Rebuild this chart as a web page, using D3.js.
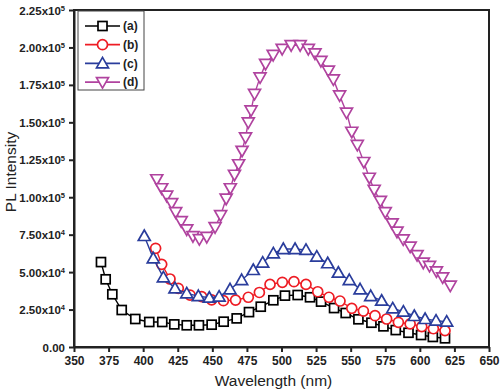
<!DOCTYPE html>
<html>
<head>
<script src="https://d3js.org/d3.v7.min.js"></script>
<style>
  body { margin: 0; background: #fff; }
  text { font-family: "Liberation Sans", Arial, sans-serif; }
</style>
</head>
<body>
<div id="chart"></div>
<script>
// values (wavelength nm, intensity counts)
const seriesNames = ['(a)', '(b)', '(c)', '(d)'];
const seriesA = [[369.5,56700],[372.9,45200],[377.7,35200],[384.5,24700],[394.3,18700],[404.4,16700],[413.8,16700],[422.5,15100],[431.5,14500],[440.3,14500],[449.5,14900],[458.2,16900],[467.6,19100],[476.5,23300],[485,26900],[494.1,31200],[502.5,34300],[511.7,34700],[520.6,33200],[528.6,30300],[538,26000],[546.4,22700],[555.6,18500],[565,16200],[573.7,13800],[582.6,11300],[591.8,9500],[600.9,8000],[609.4,6700],[618.2,5800]];
const seriesB = [[409,65900],[413.4,55200],[419.4,45400],[425.4,39200],[433.9,34700],[442.3,33600],[449.5,31500],[458,30900],[466.8,31300],[476,33200],[484,36400],[491.7,41800],[500.6,43200],[509,43600],[517.7,41800],[526.2,36900],[534.3,33200],[542.3,30700],[550.8,25800],[559.2,24000],[567.6,20900],[576,18700],[584.5,16500],[593,15400],[601.4,13600],[609.8,12200],[618.2,10900]];
const seriesC = [[400.8,74100],[407.3,59200],[414.6,46500],[423,39200],[431.5,35800],[439.9,34000],[447.8,32900],[454.9,33600],[462.8,38500],[471.2,44700],[479.6,51400],[486.4,56300],[494.1,62500],[501.3,65400],[509.8,65400],[517.7,64800],[525.5,60300],[533.4,55900],[541.1,49600],[549,44700],[556.8,38500],[564.5,34000],[572.4,30900],[580.4,25800],[588.1,23600],[596,20700],[603.8,18700],[611.7,17600],[619.4,16900]];
const seriesD = [[409.8,112000],[413.4,106000],[417,101000],[420.6,96000],[423.5,90000],[427.5,84000],[431.5,78500],[436,74000],[440.6,72000],[446,73500],[452,80000],[456,88000],[460,99000],[463,106000],[466,115000],[469,122000],[471.5,131000],[474,140000],[476,150000],[478,158000],[480.5,169000],[484.5,180000],[488.5,189000],[494,195000],[500.5,199000],[507,201500],[513.5,201500],[519.4,199000],[524.2,196000],[528.5,191000],[533.9,184500],[537.5,178700],[542,168000],[547,156500],[550.8,143700],[554.8,135000],[559.5,123500],[563.5,113000],[567,105000],[571.5,97500],[575,90000],[580,82600],[583.5,77000],[588,71900],[593,67000],[598,61400],[602.5,56300],[607,54200],[612,50500],[616.5,46500],[622,41000]];
const xTicks = [350,375,400,425,450,475,500,525,550,575,600,625,650];
const yTicks = [0,25000,50000,75000,100000,125000,150000,175000,200000,225000];

const colors = ['#000000', '#ee1c24', '#2a3d9c', '#b0439f'];
const shapes = ['square', 'circle', 'triangle', 'down'];
const allSeries = [seriesA, seriesB, seriesC, seriesD];

const W = 500, H = 389;
const margin = { top: 10, right: 11, bottom: 42, left: 74 };
const width = W - margin.left - margin.right;
const height = H - margin.top - margin.bottom;

const svg = d3.select('#chart').append('svg')
    .attr('width', W).attr('height', H);
const g = svg.append('g')
    .attr('transform', 'translate(' + margin.left + ',' + margin.top + ')');

const x = d3.scaleLinear().domain([350, 650]).range([0, width]);
const y = d3.scaleLinear().domain([0, 225000]).range([height, 0]);

// frame
g.append('rect')
    .attr('width', width).attr('height', height)
    .attr('fill', 'none').attr('stroke', '#222').attr('stroke-width', 2);

// x axis
const xAxis = g.append('g')
    .attr('transform', 'translate(0,' + height + ')')
    .call(d3.axisBottom(x).tickValues(xTicks).tickSize(5).tickPadding(4).tickSizeOuter(0));
xAxis.select('.domain').attr('stroke', '#222').attr('stroke-width', 2);
xAxis.selectAll('.tick line').attr('stroke', '#222').attr('stroke-width', 2);
xAxis.selectAll('.tick text')
    .attr('font-size', 12).attr('font-weight', 'bold').attr('fill', '#222')
    .style('font-family', '"Liberation Sans", Arial, sans-serif');

// y axis
const yAxis = g.append('g')
    .call(d3.axisLeft(y).tickValues(yTicks).tickSize(5).tickPadding(4).tickSizeOuter(0).tickFormat(''));
yAxis.select('.domain').attr('stroke', '#222').attr('stroke-width', 2);
yAxis.selectAll('.tick line').attr('stroke', '#222').attr('stroke-width', 2);
yAxis.selectAll('.tick').each(function (d) {
    const t = d3.select(this).select('text')
        .attr('font-size', 11.5).attr('font-weight', 'bold').attr('fill', '#222')
        .attr('x', -9).attr('dy', '0.35em')
        .style('font-family', '"Liberation Sans", Arial, sans-serif');
    if (d === 0) { t.text('0.00'); return; }
    const e = Math.floor(Math.log10(d));
    const m = (d / Math.pow(10, e)).toFixed(2);
    t.append('tspan').text(m + 'x10');
    t.append('tspan').text(e).attr('font-size', 7.5).attr('dy', '-0.5em');
});

// axis titles
svg.append('text')
    .attr('x', margin.left + x(500) - 8).attr('y', 386)
    .attr('text-anchor', 'middle').attr('font-size', 15.5).attr('fill', '#222')
    .text('Wavelength (nm)');
svg.append('text')
    .attr('transform', 'translate(16,' + 172 + ') rotate(-90)')
    .attr('text-anchor', 'middle').attr('font-size', 15.5).attr('fill', '#222')
    .text('PL Intensity');

function drawMarker(sel, shape, color, cx, cy) {
    if (shape === 'square') {
        sel.append('rect').attr('x', cx - 4.5).attr('y', cy - 4.5)
            .attr('width', 9).attr('height', 9);
    } else if (shape === 'circle') {
        sel.append('circle').attr('cx', cx).attr('cy', cy).attr('r', 5);
    } else if (shape === 'triangle') {
        sel.append('path').attr('d', 'M' + cx + ',' + (cy - 6) + 'L' + (cx + 6) + ',' + (cy + 4.5) + 'L' + (cx - 6) + ',' + (cy + 4.5) + 'Z');
    } else {
        sel.append('path').attr('d', 'M' + cx + ',' + (cy + 6) + 'L' + (cx + 6) + ',' + (cy - 4.5) + 'L' + (cx - 6) + ',' + (cy - 4.5) + 'Z');
    }
}

const line = d3.line().x(d => x(d[0])).y(d => y(d[1]));

allSeries.forEach(function (data, i) {
    const sg = g.append('g')
        .attr('fill', '#fff').attr('stroke', colors[i]).attr('stroke-width', 1.7);
    sg.append('path').datum(data).attr('d', line).attr('fill', 'none').attr('stroke-width', 1.4);
    data.forEach(function (d) { drawMarker(sg, shapes[i], colors[i], x(d[0]), y(d[1])); });
});

// legend
const lg = g.append('g').attr('transform', 'translate(4,1)');
lg.append('rect').attr('width', 66).attr('height', 79)
    .attr('fill', '#fff').attr('stroke', '#444').attr('stroke-width', 1);
seriesNames.forEach(function (name, i) {
    const ly = 15 + i * 18.7;
    const eg = lg.append('g').attr('fill', '#fff').attr('stroke', colors[i]).attr('stroke-width', 1.7);
    eg.append('line').attr('x1', 7).attr('x2', 42).attr('y1', ly).attr('y2', ly);
    drawMarker(eg, shapes[i], colors[i], 24.5, ly);
    lg.append('text').attr('x', 45).attr('y', ly).attr('dy', '0.35em')
        .attr('font-size', 12).attr('font-weight', 'bold').attr('fill', '#222')
        .text(name);
});
</script>
</body>
</html>
